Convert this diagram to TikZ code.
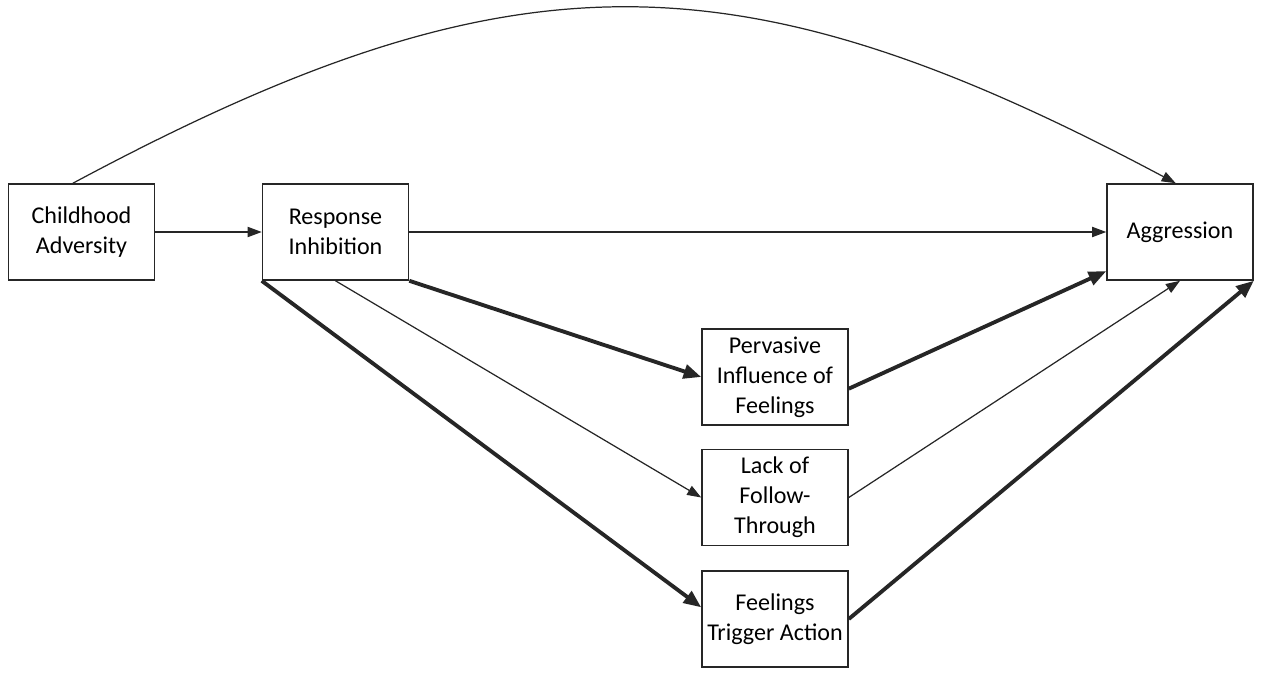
\documentclass[tikz,border=0pt]{standalone}
\usepackage{fontspec}
\setmainfont{Carlito}
\usetikzlibrary{arrows.meta}
\begin{document}
\begin{tikzpicture}[x=0.02cm,y=-0.02cm,
    box/.style={draw=black!85,line width=0.9pt,minimum width=2.92cm,minimum height=1.92cm,
      align=center,inner sep=2pt,font=\fontsize{13.7}{17}\selectfont},
    link/.style={draw=black!85,line width=0.7pt,-{Triangle[length=8pt,width=5.8pt]}},
    boldlink/.style={draw=black!85,line width=2.2pt,-{Triangle[length=10pt,width=8pt]}}]
    \useasboundingbox (0,0) rectangle (1264,673);
    % Boxes
    \node[box] (ca) at (81.5,232) {Childhood\\Adversity};
    \node[box] (ri) at (335.5,232) {Response\\Inhibition};
    \node[box] (ag) at (1180,232) {Aggression};
    \node[box] (pif) at (775,377) {Pervasive\\Influence of\\Feelings};
    \node[box] (lft) at (775,497.5) {Lack of\\Follow-\\Through};
    \node[box] (fta) at (775,619) {Feelings\\Trigger Action};
    % Direct path over the top
    \draw[link] (ca.100) .. controls (510,-51) and (736,-51) .. (ag.95);
    % Straight paths
    \draw[link] (ca) -- (ri);
    \draw[link] (ri) -- (ag);
    % Paths through the mediators
    \draw[boldlink] (ri.south east) -- (pif.west);
    \draw[boldlink] (pif.351) -- (ag.208);
    \draw[link] (ri.south) -- (lft.west);
    \draw[link] (lft.east) -- (ag.south);
    \draw[boldlink] (ri.south west) -- (fta.171);
    \draw[boldlink] (fta.east) -- (ag.south east);
\end{tikzpicture}
\end{document}
